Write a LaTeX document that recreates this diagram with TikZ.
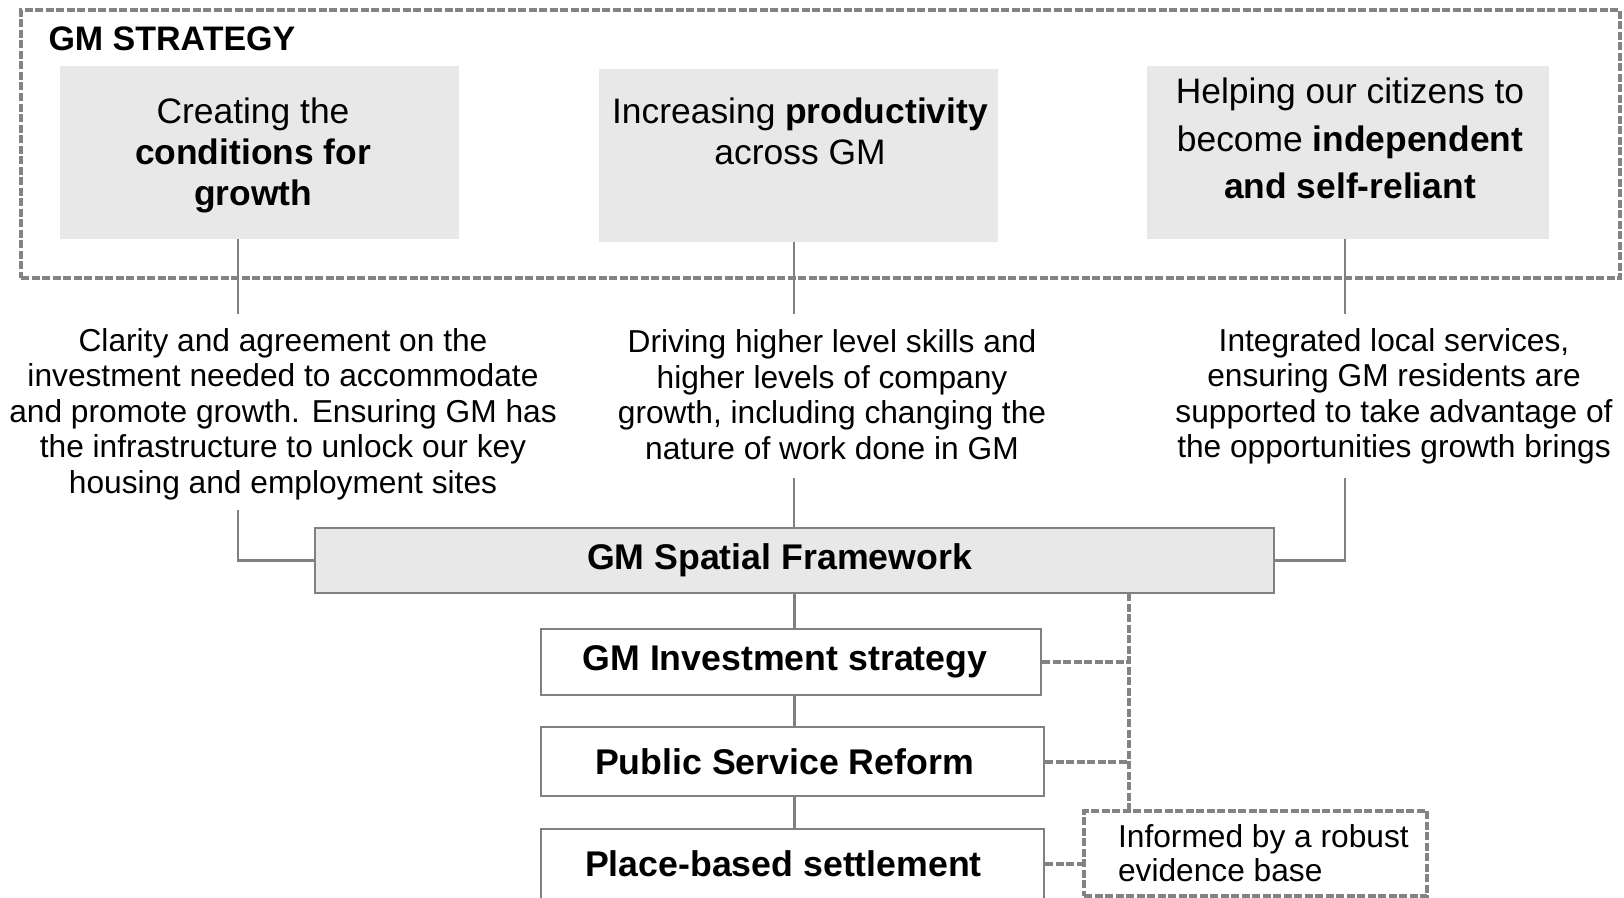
\documentclass[tikz,border=0pt]{standalone}
\usepackage{fontspec}
\setmainfont{Liberation Sans}
\definecolor{boxgray}{HTML}{E8E8E8}
\definecolor{linegray}{HTML}{808080}
\definecolor{dashgray}{HTML}{838383}

\begin{document}
\begin{tikzpicture}[x=1pt,y=-1pt,
  goalbox/.style={fill=boxgray, minimum height=173pt, inner sep=0pt},
  goaltext/.style={align=center, font=\fontsize{35.4}{41}\selectfont},
  capt/.style={align=center, font=\fontsize{31.7}{35.5}\selectfont},
  planbox/.style={draw=linegray, line width=2.5pt, minimum height=66pt, inner sep=0pt, font=\bfseries\fontsize{35.7}{40}\selectfont},
  conn/.style={draw=linegray, line width=2.5pt},
  dashline/.style={draw=dashgray, line width=4pt, dash pattern=on 8pt off 2.5pt},
]
\useasboundingbox (0,0) rectangle (1624,897);
\clip (0,0) rectangle (1624,897);

\node[dashline, minimum width=1599pt, minimum height=268pt] (g) at (820.5,144) {};
\node[anchor=west, font=\bfseries\fontsize{34}{40}\selectfont] (gt) at (45,39) {GM STRATEGY};

\node[goalbox, minimum width=399pt] (a) at (259.5,152.5) {};
\node[goaltext] (ta) at (253,155) {Creating the\\\textbf{conditions for}\\\textbf{growth}};
\node[goalbox, minimum width=399pt] (b) at (798.5,155.5) {};
\node[goaltext] (tb) at (800,131.5) {Increasing \textbf{productivity}\\across GM};
\node[goalbox, minimum width=402pt] (c) at (1348,152.5) {};
\node[goaltext, font=\fontsize{35.4}{47.5}\selectfont] (tc) at (1350,138.5) {Helping our citizens to\\become \textbf{independent}\\\textbf{and self-reliant}};

\coordinate (ua) at (238,314);
\coordinate (ub) at (794,314);
\coordinate (uc) at (1345,314);
\path[conn] (a.south -| ua) -- (ua);
\path[conn] (b.south -| ub) -- (ub);
\path[conn] (c.south -| uc) -- (uc);

\node[capt] (ca) at (283,414) {Clarity and agreement on the\\investment needed to accommodate\\and promote growth. Ensuring GM has\\the infrastructure to unlock our key\\housing and employment sites};
\node[capt] (cb) at (832,394.5) {Driving higher level skills and\\higher levels of company\\growth, including changing the\\nature of work done in GM};
\node[capt] (cc) at (1394,396.5) {Integrated local services,\\ensuring GM residents are\\supported to take advantage of\\the opportunities growth brings};

\node[planbox, fill=boxgray, minimum width=959pt, minimum height=65pt] (s) at (794.5,560.5) {GM Spatial Framework\hspace*{30pt}};
\coordinate (la) at (238,510);
\coordinate (lb) at (794,478);
\coordinate (lc) at (1345,478);
\path[conn] (la) |- (s.west);
\path[conn] (lb) -- (lb |- s.north);
\path[conn] (lc) |- (s.east);

\node[planbox, minimum width=500pt] (inv) at (791,662) {GM Investment strategy\hspace*{12pt}};
\node[planbox, minimum width=503pt, minimum height=69pt] (psr) at (792.5,761.5) {Public Service Reform\hspace*{16pt}};
\node[planbox, minimum width=503pt, minimum height=70pt] (pbs) at (792.5,864) {Place-based settlement\hspace*{18pt}};
\path[conn] (s.south) -- (s.south |- inv.north);
\path[conn] (inv.south -| s.south) -- (psr.north -| s.south);
\path[conn] (psr.south -| s.south) -- (pbs.north -| s.south);

\node[dashline, minimum width=343pt, minimum height=85pt, align=left, font=\fontsize{31.7}{34}\selectfont] (ev) at (1255.5,853.5) {\phantom{x}Informed by a robust\\\phantom{x}evidence base};
\coordinate (d) at (1129,593);
\path[dashline] (d) -- (d |- ev.north);
\path[dashline] (inv.east) -- (inv.east -| d);
\path[dashline] (psr.east) -- (psr.east -| d);
\path[dashline] (pbs.east) -- (pbs.east -| ev.west);
\end{tikzpicture}
\end{document}
